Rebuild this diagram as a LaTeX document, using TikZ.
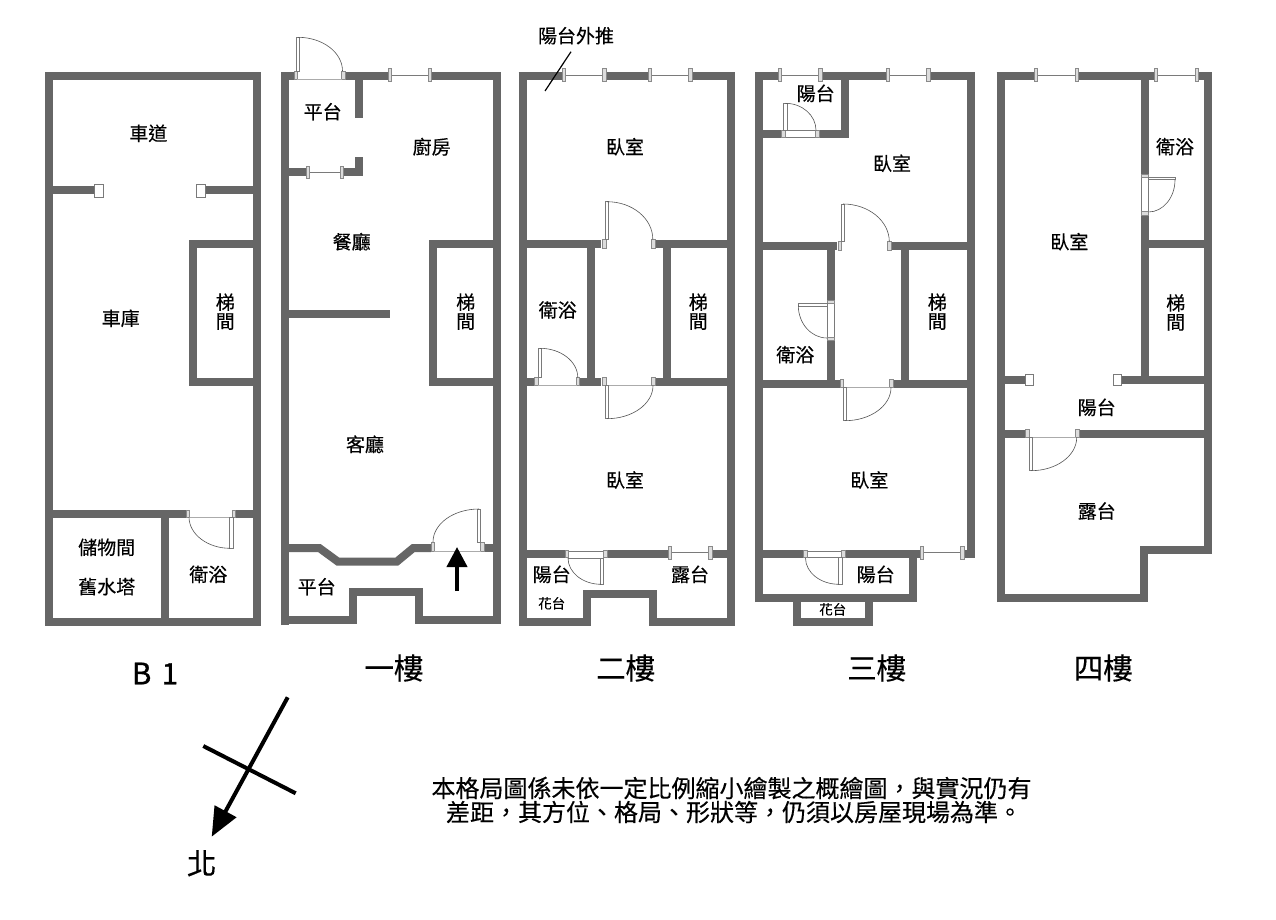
\documentclass[tikz,border=0pt]{standalone}
\usepackage{fontspec}
\setmainfont{Noto Sans CJK TC}[FakeBold=0.35]
\newfontface\boldlatin{Noto Sans CJK TC}[FakeBold=1.2]
\usetikzlibrary{calc,arrows.meta}
\tikzset{
  wall/.style={draw=wallgray,line width=8pt,line cap=butt,line join=miter},
  framebox/.style={draw=framegray,fill=framefill,line width=.6pt},
  leafbox/.style={draw=leafgray,fill=white,line width=.7pt},
  pillar/.style={draw=leafgray,fill=white,line width=1.2pt},
  sill/.style={draw=sillgray,line width=.8pt},
  pane/.style={draw=leafgray,line width=.9pt},
  swingline/.style={draw=swinggray,line width=.6pt},
  room/.style={font=\fontsize{19}{19}\selectfont,text=black,inner sep=0pt,align=center},
  small/.style={font=\fontsize{13.5}{14}\selectfont,text=black,inner sep=0pt},
  floorname/.style={font=\fontsize{29.5}{30}\selectfont,text=black,inner sep=0pt},
  notetext/.style={font=\fontsize{24}{24}\selectfont,text=black,inner sep=0pt,align=center},
  ink/.style={draw=black,line cap=butt}
}
\definecolor{wallgray}{HTML}{666666}
\definecolor{framegray}{HTML}{8A8A8A}
\definecolor{framefill}{HTML}{DCDCDC}
\definecolor{leafgray}{HTML}{7A7A7A}
\definecolor{sillgray}{HTML}{ABABAB}
\definecolor{swinggray}{HTML}{555555}
\newcommand\frm[4]{\draw[framebox] (#1,#2) rectangle (#3,#4);}
\newcommand\doorleaf[4]{\draw[leafbox] (#1,#2) rectangle (#3,#4);}
\newcommand\pil[4]{\draw[pillar] (#1,#2) rectangle (#3,#4);}
\newcommand\doorsill[2]{\draw[sill] (#1) -- (#2);}
\newcommand\swing[3]{\draw[swingline] (#1) .. controls ($(#1)!.5523!(#3)$) and ($(#2)!.5523!(#3)$) .. (#2);}
% horizontal window: outer x1, outer x2, centre y
\newcommand\win[3]{%
  \draw[pane] (#1+2,#3) -- (#2-2,#3);
  \frm{#1}{#3-6.2}{#1+3.4}{#3+6.2}\frm{#2-3.4}{#3-6.2}{#2}{#3+6.2}}
\begin{document}
\begin{tikzpicture}[x=1pt,y=-1pt]
\useasboundingbox (0,0) rectangle (1276,920);
\fill[white] (0,0) rectangle (1276,920);

%%% B1
\draw[wall] (49,76) rectangle (256.7,621.7);
\draw[wall] (49,190) -- (95,190);
\draw[wall] (205,190) -- (256,190);
\pil{94.3}{184.3}{103.5}{197.2}
\pil{196.5}{184.3}{205.7}{197.2}
\draw[wall] (256,244) -- (193,244) -- (193,381.7) -- (256,381.7);
\draw[wall] (49,514) -- (186,514);
\draw[wall] (235,514) -- (256,514);
\draw[wall] (164.7,514) -- (164.7,621.7);
\frm{185.8}{510}{189.7}{517.3}\frm{232.3}{510}{235.7}{517.3}
\doorsill{189,517.3}{232,517.3}
\doorleaf{229.7}{517.3}{233}{548.3}
\swing{189,517.3}{230,548.3}{189.5,548.3}

%%% 1F
\draw[wall] (285,625) -- (285,72);
\draw[wall] (281,76) -- (294,76);
\draw[wall] (345,76) -- (388.5,76);
\draw[wall] (431.5,76) -- (497,76) -- (497,620) -- (418.8,620) -- (418.8,592) -- (353,592) -- (353,620) -- (285,620);
\draw[wall] (359,76) -- (359,117.7);
\draw[wall] (285,172) -- (306,172);
\draw[wall] (343.5,172) -- (359,172) -- (359,157);
\draw[wall] (497,244) -- (433.3,244) -- (433.3,381.7) -- (497,381.7);
\draw[wall] (285,314) -- (390,314);
\draw[wall] (285,548) -- (319.3,548) -- (338,561.7) -- (396.7,561.7) -- (413.3,548) -- (431,548);
\draw[wall] (484,548) -- (497,548);
\win{388.3}{431.7}{75}
\win{306}{343.7}{172.3}
% top door
\frm{294}{71}{297.4}{79.3}\frm{341.3}{71}{345}{79.3}
\doorsill{297,79.3}{342,79.3}
\doorleaf{296.3}{37.3}{299.7}{71}
\swing{298,37.3}{342.5,71}{342.5,37.3}
% entrance door
\frm{431}{542}{434.7}{551}\frm{480.3}{542}{484}{551}
\doorsill{434,551}{481,551}
\doorleaf{477.3}{509}{480.7}{542}
\swing{479,509}{433,542}{433,509}
\coordinate (entryA) at (457,591);
\coordinate (entryB) at (457,547);
\draw[ink,line width=4pt,-{Triangle[length=20pt,width=20pt]}] (entryA) -- (entryB);

%%% 2F
\draw[wall] (522.7,625.7) -- (522.7,72);
\draw[wall] (518.7,76) -- (562.5,76);
\draw[wall] (606,76) -- (648.5,76);
\draw[wall] (692,76) -- (731,76) -- (731,625.7);
\draw[wall] (522.7,244) -- (601,244);
\draw[wall] (655,244) -- (731,244);
\draw[wall] (590.8,244) -- (590.8,381);
\draw[wall] (666.7,244) -- (666.7,381);
\draw[wall] (522.7,381.7) -- (535,381.7);
\draw[wall] (579.5,381.7) -- (601,381.7);
\draw[wall] (655,381.7) -- (731,381.7);
\draw[wall] (522.7,554) -- (565.5,554);
\draw[wall] (607,554) -- (668.2,554);
\draw[wall] (712,554) -- (735.3,554);
\draw[wall] (519,621.7) -- (586.8,621.7) -- (586.8,594) -- (652.7,594) -- (652.7,621.7) -- (735,621.7);
\win{562.3}{606}{75}
\win{648.3}{692}{75}
\frm{602}{239.3}{606}{248.7}\frm{651}{239.3}{655}{248.7}
\doorleaf{605.3}{201.7}{608.7}{239.3}
\swing{607,201.7}{652.8,239.3}{652.8,201.7}
\frm{534.7}{377.7}{538}{385.2}\frm{576.3}{377.7}{579.7}{385.2}
\doorsill{538,385.2}{576.5,385.2}
\doorleaf{538.3}{348.3}{541}{377.7}
\swing{540,348.3}{577.8,377.7}{577.8,348.3}
\frm{602}{377}{606}{385.2}\frm{651}{377}{655}{385.2}
\doorsill{606,385.3}{651,385.3}
\doorleaf{605.3}{385.3}{608.7}{418.7}
\swing{607,418.7}{653,385.5}{653,418.7}
\doorleaf{568.5}{551}{603.8}{558}
\frm{565.3}{550.5}{568.7}{557.5}\frm{603.7}{550.5}{607}{557.5}
\doorleaf{600.7}{558}{603.3}{584.3}
\swing{568,558}{601,584.3}{568,584.3}
\win{668}{712}{552.7}
\coordinate (pushA) at (571,51.7);
\coordinate (pushB) at (545,91);
\draw[ink,line width=1.2pt] (pushA) -- (pushB);

%%% 3F
\draw[wall] (759,602) -- (759,72);
\draw[wall] (755,76) -- (778.5,76);
\draw[wall] (822,76) -- (886.5,76);
\draw[wall] (930,76) -- (970.7,76) -- (970.7,558);
\draw[wall] (844.7,76) -- (844.7,137.7);
\draw[wall] (759,133.7) -- (781,133.7);
\draw[wall] (819,133.7) -- (848.7,133.7);
\draw[wall] (759,246) -- (837,246);
\draw[wall] (892,246) -- (971,246);
\draw[wall] (830.8,246) -- (830.8,300.7);
\draw[wall] (830.8,340) -- (830.8,383);
\draw[wall] (904.7,246) -- (904.7,383);
\draw[wall] (759,383.7) -- (839.5,383.7);
\draw[wall] (893,383.7) -- (971,383.7);
\draw[wall] (759,554) -- (804,554);
\draw[wall] (845,554) -- (912.8,554) -- (912.8,598) -- (755,598);
\draw[wall] (912.8,554) -- (920.5,554);
\draw[wall] (965,554) -- (971,554);
\draw[wall] (796.8,598) -- (796.8,621.7) -- (868.8,621.7) -- (868.8,598);
\win{778.3}{822}{75}
\win{886.3}{930}{75}
\win{920.3}{964}{552.7}
% balcony door
\doorleaf{785}{130.3}{815.7}{137}
\frm{781.7}{130}{785}{137}\frm{815.7}{130}{819}{137}
\doorleaf{783.7}{103.3}{787}{130.3}
\swing{785.3,103.3}{816,130.3}{816,103.3}
% upper door
\frm{838.3}{241.7}{841.7}{250.7}\frm{887.7}{241.7}{891}{250.7}
\doorleaf{841.3}{204}{844.7}{241.7}
\swing{843,204}{889.3,241.7}{889.3,204}
% bath door (vertical)
\doorleaf{827}{303.5}{834.7}{337}
\frm{827}{300.7}{834.7}{303.5}\frm{827}{336.8}{834.7}{340}
\doorleaf{798.3}{303.5}{827}{306.3}
\swing{798.3,305.5}{827,338}{798.3,338}
% lower door
\frm{840}{379}{843.7}{387.3}\frm{889}{379}{893}{387.3}
\doorsill{843,387.3}{890,387.3}
\doorleaf{843.3}{387.3}{846.7}{420.7}
\swing{845,420.7}{891,387.5}{891,420.7}
% lower balcony door
\doorleaf{807}{551}{841.8}{557.5}
\frm{803.7}{550.5}{807}{557.5}\frm{841.7}{550.5}{845}{557.5}
\doorleaf{838.7}{557.5}{842}{584.3}
\swing{805.5,558}{839,584.3}{805.5,584.3}

%%% 4F
\draw[wall] (1000.7,602) -- (1000.7,72);
\draw[wall] (996.7,76) -- (1034.2,76);
\draw[wall] (1078,76) -- (1154.5,76);
\draw[wall] (1198,76) -- (1207.7,76) -- (1207.7,550) -- (1144.3,550) -- (1144.3,598) -- (996.7,598);
\draw[wall] (1144.7,76) -- (1144.7,174.5);
\draw[wall] (1144.7,215) -- (1144.7,380);
\draw[wall] (1144.7,244) -- (1207.7,244);
\draw[wall] (1000.7,380) -- (1026,380);
\draw[wall] (1121,380) -- (1207.7,380);
\pil{1025.7}{374.3}{1033.7}{385.7}
\pil{1113.3}{374.3}{1121.3}{385.7}
\draw[wall] (1000.7,434) -- (1026,434);
\draw[wall] (1079,434) -- (1207.7,434);
\win{1034}{1078.3}{75}
\win{1154.3}{1198.3}{75}
\doorleaf{1141.3}{177.5}{1148.7}{212}
\frm{1141.3}{174.3}{1148.7}{177.7}\frm{1141.3}{211.7}{1148.7}{215}
\doorleaf{1148.7}{177}{1175}{179.7}
\swing{1175,179.7}{1148.5,212}{1175,212}
\frm{1025.7}{429.5}{1029.7}{437.3}\frm{1075.3}{429.5}{1079.3}{437.3}
\doorsill{1029,437.3}{1076,437.3}
\doorleaf{1029.3}{437.3}{1032.3}{470.7}
\swing{1031,470.7}{1076.7,437.5}{1076.7,470.7}

%%% Room labels
\node[room] (r1) at (148.3,133.3) {車道};
\node[room] (r2) at (120.7,318.3) {車庫};
\node[room] (r3) at (225.3,311.7) {梯\\間};
\node[room] (r4) at (106.7,547.3) {儲物間};
\node[room] (r5) at (106.7,586.7) {舊水塔};
\node[room] (r6) at (208.3,574.3) {衛浴};
\node[room] (r7) at (322.7,111.7) {平台};
\node[room] (r8) at (431.7,146.7) {廚房};
\node[room] (r9) at (351.7,241.7) {餐廳};
\node[room] (r10) at (465.7,311.7) {梯\\間};
\node[room] (r11) at (365,444.3) {客廳};
\node[room] (r12) at (316.7,586.7) {平台};
\node[room] (r13) at (625,146.7) {臥室};
\node[room] (r14) at (557.7,310) {衛浴};
\node[room] (r15) at (698.3,311.7) {梯\\間};
\node[room] (r16) at (625,480) {臥室};
\node[room] (r17) at (551.7,574.3) {陽台};
\node[room] (r18) at (690,574.3) {露台};
\node[small] (r19) at (551.7,603.3) {花台};
\node[room] (r20) at (815.7,93.3) {陽台};
\node[room] (r21) at (892,163.3) {臥室};
\node[room] (r22) at (937.3,311.7) {梯\\間};
\node[room] (r23) at (795.3,354.7) {衛浴};
\node[room] (r24) at (869.3,480) {臥室};
\node[room] (r25) at (875.7,574.3) {陽台};
\node[small] (r26) at (832.7,609.3) {花台};
\node[room] (r27) at (1175,146.7) {衛浴};
\node[room] (r28) at (1069.3,241.7) {臥室};
\node[room] (r29) at (1175.7,312.5) {梯\\間};
\node[room] (r30) at (1096.7,407.3) {陽台};
\node[room] (r31) at (1096.7,511) {露台};
\node[room] (r32) at (576,35.7) {陽台外推};

%%% Floor names
\node[floorname] (f0) at (155,673.5) {\boldlatin B\hspace{.35em}1};
\node[floorname] (f1) at (394,668) {一樓};
\node[floorname] (f2) at (625.7,668) {二樓};
\node[floorname] (f3) at (876.7,668) {三樓};
\node[floorname] (f4) at (1103.3,668) {四樓};

%%% Compass
\coordinate (cTail) at (287.7,697.3);
\coordinate (cTip) at (211.7,836.7);
\coordinate (cWest) at (203.3,746);
\coordinate (cEast) at (295.7,793.3);
\draw[ink,line width=4pt,-{Triangle[length=29pt,width=24pt]}] (cTail) -- (cTip);
\draw[ink,line width=4pt] (cWest) -- (cEast);
\node[floorname] (north) at (201.7,863.3) {北};

%%% Note
\node[notetext] (note1) at (731.5,788) {本格局圖係未依一定比例縮小繪製之概繪圖，與實況仍有};
\node[notetext] (note2) at (734,812) {差距，其方位、格局、形狀等，仍須以房屋現場為準。};
\end{tikzpicture}
\end{document}
